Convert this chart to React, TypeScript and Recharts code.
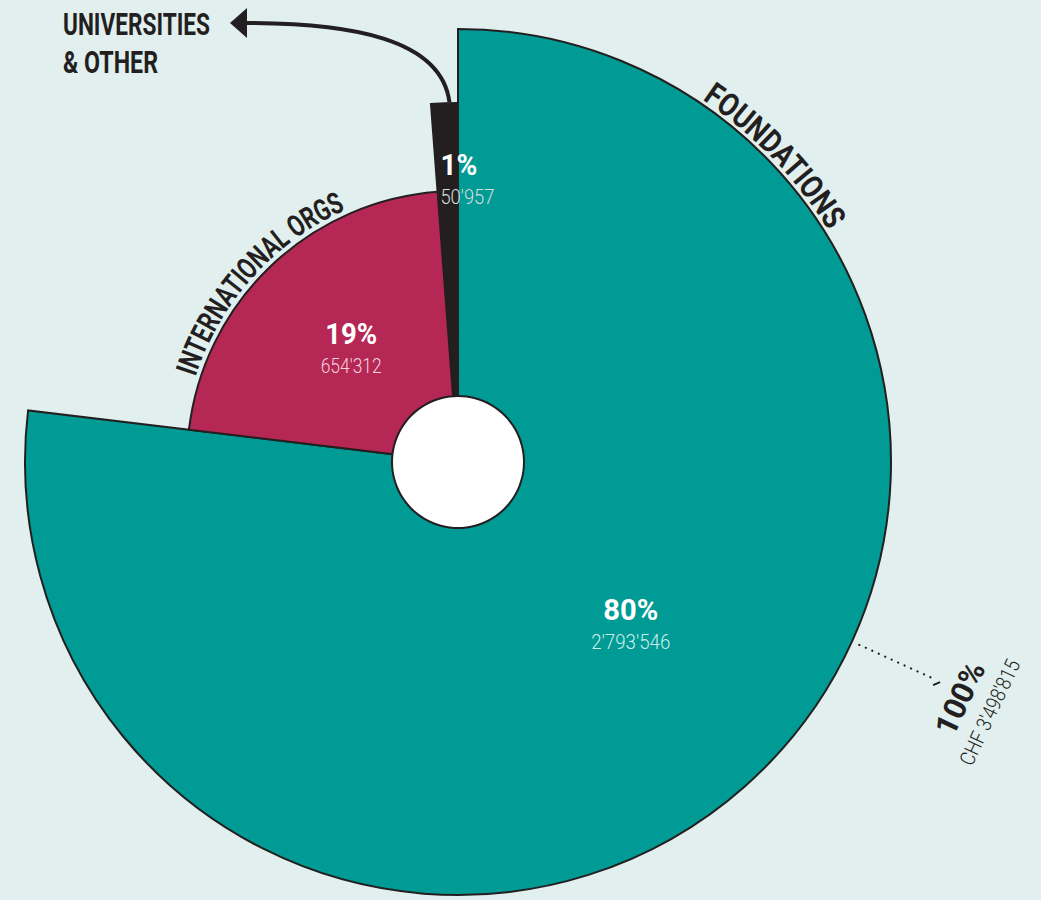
import React from 'react';
import { PieChart, Pie, Cell } from 'recharts';

const categories = ['Foundations', 'International orgs', 'Universities & other'];
const curvedNames = ['FOUNDATIONS', 'INTERNATIONAL ORGS'];
const amounts = [2793546, 654312, 50957];
const amountLabels = ["2'793'546", "654'312", "50'957"];
const percentLabels = ['80%', '19%', '1%'];
// share of the circle each slice covers in the drawing
const sliceShare = [76.9, 21.9, 1.2];
const totalPercent = '100%';
const totalAmount = "CHF 3'498'815";
const otherLabel = ['UNIVERSITIES', '& OTHER'];

const W = 1041;
const H = 900;
const CX = 458;
const CY = 462;
const HOLE = 66;
const INK = '#231f20';
const BG = '#e1efef';
const COLORS = ['#009b94', '#b52754', '#231f20'];
const RADII = [433, 271, 359];
const AMOUNT_COLORS = ['#cdeeea', '#f3d3de', '#dcdcdc'];
const PCT_W = [55, 52, 37];
const AMT_W = [79, 61, 54];
const FONT = "Roboto, 'DejaVu Sans', sans-serif";
const RAD = Math.PI / 180;

const pieData = categories.map((name, i) => ({ name, value: sliceShare[i], amount: amounts[i] }));
const holeData = [{ name: 'centre', value: 1 }];

const polar = (cx: number, cy: number, r: number, deg: number) => ({
  x: cx + r * Math.cos(-deg * RAD),
  y: cy + r * Math.sin(-deg * RAD),
});

const arcPath = (cx: number, cy: number, r: number, from: number, to: number) => {
  const a = polar(cx, cy, r, from);
  const b = polar(cx, cy, r, to);
  return `M ${a.x} ${a.y} A ${r} ${r} 0 0 1 ${b.x} ${b.y}`;
};

const ValueText = ({ x, y, i, anchor }: { x: number; y: number; i: number; anchor: string }) => (
  <g fontFamily={FONT}>
    <text x={x} y={y - 2} textAnchor={anchor} fill="#fff" fontWeight={700} fontSize={30}
      textLength={PCT_W[i]} lengthAdjust="spacingAndGlyphs">{percentLabels[i]}</text>
    <text x={x} y={y + 27} textAnchor={anchor} fill={AMOUNT_COLORS[i]} fontWeight={300} fontSize={21}
      textLength={AMT_W[i]} lengthAdjust="spacingAndGlyphs">{amountLabels[i]}</text>
  </g>
);

const CurvedName = ({ id, d, text, len, size }: { id: string; d: string; text: string; len: number; size: number }) => (
  <g>
    <defs><path id={id} d={d} fill="none" /></defs>
    <text fontFamily={FONT} fontWeight={700} fontSize={size} fill={INK}>
      <textPath href={`#${id}`} textLength={len} lengthAdjust="spacingAndGlyphs">{text}</textPath>
    </text>
  </g>
);

const sliceLabel = (slice: number) => (p: any) => {
  if (p.index !== slice) return null;
  const { cx, cy, outerRadius: r, midAngle, startAngle } = p;

  if (slice === 0) {
    const c = polar(cx, cy, r * 0.544, midAngle + 5.6);
    const a = polar(cx, cy, r + 8, -24.5);
    const b = polar(cx, cy, r + 88, -24.5);
    const t1 = polar(cx, cy, r + 122, -25.2);
    const t2 = polar(cx, cy, r + 155, -25.2);
    return (
      <g>
        <ValueText x={c.x} y={c.y} i={0} anchor="middle" />
        <CurvedName id="arc-found" d={arcPath(cx, cy, r + 4, 56, 10)} text={curvedNames[0]} len={183} size={32} />
        <line x1={a.x} y1={a.y} x2={b.x} y2={b.y} stroke={INK} strokeWidth={2.2}
          strokeDasharray="0.1 7" strokeLinecap="round" />
        <line x1={b.x + 1} y1={b.y + 7} x2={b.x + 8} y2={b.y + 4} stroke={INK} strokeWidth={2} />
        <text x={t1.x} y={t1.y} transform={`rotate(-64.8 ${t1.x} ${t1.y})`} textAnchor="middle"
          dominantBaseline="central" fontFamily={FONT} fontWeight={700} fontSize={31} fill={INK}
          textLength={77} lengthAdjust="spacingAndGlyphs">{totalPercent}</text>
        <text x={t2.x} y={t2.y} transform={`rotate(-64.8 ${t2.x} ${t2.y})`} textAnchor="middle"
          dominantBaseline="central" fontFamily={FONT} fontWeight={300} fontSize={21} fill={INK}
          textLength={114} lengthAdjust="spacingAndGlyphs">{totalAmount}</text>
      </g>
    );
  }

  if (slice === 1) {
    const c = polar(cx, cy, r * 0.582, midAngle - 1.1);
    return (
      <g>
        <ValueText x={c.x} y={c.y} i={1} anchor="middle" />
        <CurvedName id="arc-intl" d={arcPath(cx, cy, r + 5, 162, 100)} text={curvedNames[1]} len={231} size={30} />
      </g>
    );
  }

  const c = polar(cx, cy, r * 0.797, startAngle);
  const s = polar(cx, cy, r + 1, midAngle);
  const tipX = 230;
  const tipY = 23;
  return (
    <g>
      <ValueText x={c.x + 4} y={c.y} i={2} anchor="start" />
      <path d={`M ${s.x + 5} ${s.y} C ${s.x - 3} ${s.y - 64}, ${s.x - 95} ${tipY}, ${tipX + 16} ${tipY}`}
        fill="none" stroke={INK} strokeWidth={4} />
      <polygon points={`${tipX},${tipY} ${tipX + 17},${tipY - 15} ${tipX + 17},${tipY + 15}`} fill={INK} />
      <g fontFamily={FONT} fontWeight={700} fontSize={31} fill={INK}>
        <text x={63} y={35} textLength={147} lengthAdjust="spacingAndGlyphs">{otherLabel[0]}</text>
        <text x={63} y={73} textLength={95} lengthAdjust="spacingAndGlyphs">{otherLabel[1]}</text>
      </g>
    </g>
  );
};

const drawOrder = [0, 2, 1];

export default function App() {
  return (
    <div style={{ position: 'absolute', left: 0, top: 0, width: W, height: H, background: BG, overflow: 'hidden' }}>
      <PieChart width={W} height={H} margin={{ top: 0, right: 0, bottom: 0, left: 0 }}>
        {drawOrder.map((i) => (
          <Pie
            key={i}
            data={pieData}
            dataKey="value"
            nameKey="name"
            cx={CX}
            cy={CY}
            innerRadius={0}
            outerRadius={RADII[i]}
            startAngle={90}
            endAngle={-270}
            isAnimationActive={false}
            labelLine={false}
            label={sliceLabel(i)}
          >
            {pieData.map((_, j) => (
              <Cell
                key={j}
                fill={j === i ? COLORS[i] : 'none'}
                stroke={j === i ? INK : 'none'}
                strokeWidth={2}
              />
            ))}
          </Pie>
        ))}
        {/* white centre disc and its dark rim */}
        <Pie data={holeData} dataKey="value" cx={CX} cy={CY} innerRadius={0} outerRadius={HOLE}
          fill="#fff" stroke="none" isAnimationActive={false} />
        <Pie data={holeData} dataKey="value" cx={CX} cy={CY} innerRadius={HOLE - 1} outerRadius={HOLE + 1}
          fill={INK} stroke="none" isAnimationActive={false} />
      </PieChart>
    </div>
  );
}
